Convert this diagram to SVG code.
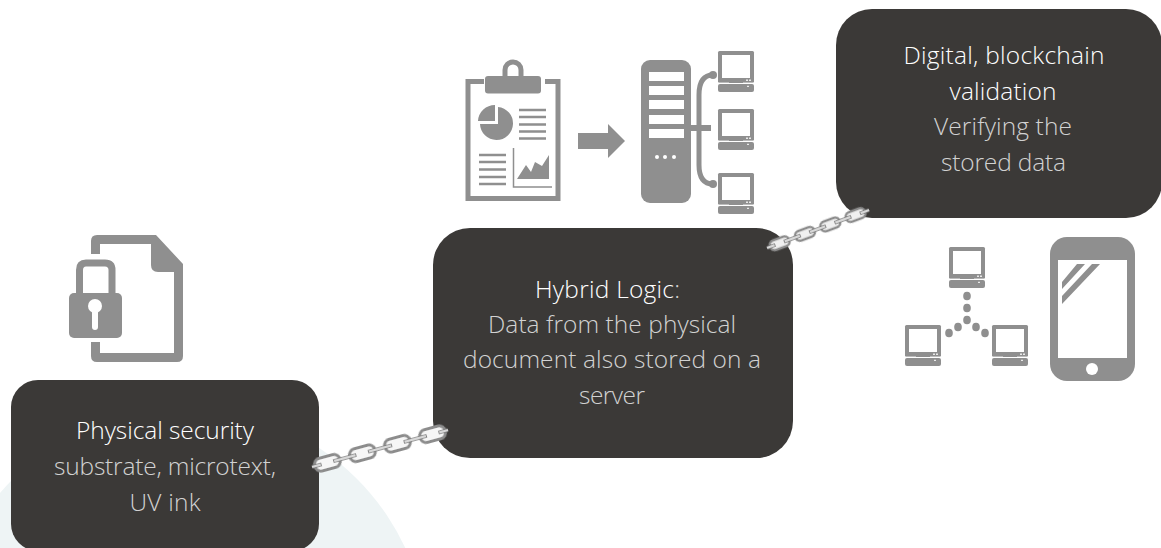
<svg xmlns="http://www.w3.org/2000/svg" xmlns:xlink="http://www.w3.org/1999/xlink" width="1161" height="548" viewBox="0 0 1161 548">
<style>
.box{fill:#3b3937}
.ic{fill:#8f8f8f}
.w{fill:#fff}
.ln{fill:none;stroke:#8f8f8f}
text{font-family:"Open Sans","Noto Sans","Liberation Sans",sans-serif;font-weight:300;font-size:24.5px;text-anchor:middle}
.t{fill:#fff}
.s{fill:#d2d2d2}
.link{fill:#f6f6f6;stroke:#8c8c8c;stroke-width:3}
.lk2{fill:#f0f0f0;stroke:#8c8c8c;stroke-width:2.500}
.bar{stroke:#7c7c7c;stroke-width:3.600;fill:none}
.pin{stroke:#f6f6f6;stroke-width:1.300;fill:none}
</style>
<defs>
<g id="pc">
<rect x="0" y="0" width="36" height="32" rx="1.500" class="ic"/>
<rect x="4" y="4" width="28" height="23" class="w"/>
<rect x="0" y="33" width="36" height="8" rx="2" class="ic"/>
<rect x="0" y="31.600" width="11" height="1" class="w"/>
<rect x="25" y="31.600" width="11" height="1" class="w"/>
<rect x="28" y="28.600" width="2" height="1.200" class="w"/>
<rect x="31" y="28.600" width="2" height="1.200" class="w"/>
<rect x="29" y="34.800" width="2" height="1" class="w"/>
</g>
<rect id="lk" x="-13" y="-6.500" width="26" height="13" rx="6" class="link"/>
<rect id="lks" x="-10" y="-5" width="20" height="10" rx="4.500" class="lk2"/>
<filter id="soft" x="-10%" y="-40%" width="120%" height="180%"><feGaussianBlur stdDeviation="0.6"/></filter>
</defs>
<circle id="backdrop" cx="185" cy="650.500" r="243" fill="#eef4f5"/>
<g id="node-physical">
<rect class="box" x="11" y="380" width="308" height="171" rx="27"/>
<text class="t" x="165" y="439" textLength="178">Physical security</text>
<text class="s" x="165" y="475" textLength="222">substrate, microtext,</text>
<text class="s" x="165" y="511" textLength="71">UV ink</text>
</g>
<g id="node-hybrid">
<rect class="box" x="433" y="228" width="360" height="230" rx="37"/>
<text class="t" x="607.500" y="298" textLength="145">Hybrid Logic<tspan class="s">:</tspan></text>
<text class="s" x="612" y="333" textLength="248">Data from the physical</text>
<text class="s" x="612" y="368" textLength="298">document also stored on a</text>
<text class="s" x="612" y="404" textLength="66">server</text>
</g>
<g id="node-digital">
<rect class="box" x="836" y="9" width="326" height="209" rx="36"/>
<text class="t" x="1004" y="64" textLength="201">Digital, blockchain</text>
<text class="t" x="1003" y="100" textLength="107">validation</text>
<text class="s" x="1003" y="135" textLength="138">Verifying the</text>
<text class="s" x="1003.500" y="171" textLength="125">stored data</text>
</g>
<g id="icon-locked-document">
<path class="ic" fill-rule="evenodd" d="M91 254V241Q91 235 97 235H156L183 264V356Q183 362 177 362H97Q91 362 91 356V342H100V353H174V272H158Q151 272 151 265V244H100V254Z"/>
<path class="ln" stroke-width="7" d="M79.500 293V270Q79.500 263 86 263H105Q112 263 112 270V293"/>
<rect class="ic" x="69" y="293" width="53" height="45" rx="5"/>
<circle class="w" cx="95" cy="306" r="7"/>
<rect class="w" x="92" y="306" width="6" height="24" rx="3"/>
</g>
<g id="icon-clipboard">
<path class="ln" stroke-width="5" d="M484 81.500H468V198.500H558V81.500H545"/>
<rect class="ic" x="485" y="76" width="56" height="17.500" rx="3"/>
<path class="ln" stroke-width="5" d="M505 76V70A8 8 0 0 1 521 70V76"/>
<path class="ic" d="M495 105V121H478A17 17 0 0 1 495 105ZM498 107A16.500 16.500 0 1 1 480 124H498Z"/>
<path class="ln" stroke-width="2.500" d="M519 110H546M519 117H546M519 124.500H546M519 131.500H546M519 138.500H546M479 155H506M479 162H506M479 169.500H506M479 177H506M479 184H506"/>
<path class="ln" stroke-width="1.500" d="M513.500 148V187H552"/>
<path class="ic" d="M517 179L526 165L531 172L535 162L542 166L549 155V179Z"/>
</g>
<path id="icon-arrow" class="ic" d="M578 133H608V124L625 141L608 158V149H578Z"/>
<g id="icon-server">
<rect class="ic" x="641" y="60" width="50" height="143" rx="9"/>
<rect class="w" x="649" y="72" width="35" height="9"/>
<rect class="w" x="649" y="86" width="35" height="9"/>
<rect class="w" x="649" y="100" width="35" height="9"/>
<rect class="w" x="649" y="115" width="35" height="9"/>
<rect class="w" x="649" y="129" width="35" height="9"/>
<circle class="w" cx="657" cy="157" r="2"/><circle class="w" cx="665" cy="157" r="2"/><circle class="w" cx="674" cy="157" r="2"/>
<path class="ln" stroke-width="5" d="M713 75Q699 75 699 95V165Q699 184 713 184"/>
<path class="ln" stroke-width="6" d="M691 128H711"/>
<circle class="ic" cx="713" cy="75" r="4"/><circle class="ic" cx="713" cy="184" r="4"/>
<use xlink:href="#pc" href="#pc" x="718" y="51"/>
<use xlink:href="#pc" href="#pc" x="718" y="109"/>
<use xlink:href="#pc" href="#pc" x="718" y="173"/>
</g>
<g id="icon-network">
<use xlink:href="#pc" href="#pc" x="949" y="247"/>
<use xlink:href="#pc" href="#pc" x="905" y="325"/>
<use xlink:href="#pc" href="#pc" x="992" y="325"/>
<ellipse class="ic" cx="967" cy="296" rx="3.800" ry="4.300"/>
<ellipse class="ic" cx="967" cy="308" rx="3.800" ry="4.300"/>
<ellipse class="ic" cx="967" cy="320" rx="3.800" ry="4.300"/>
<ellipse class="ic" cx="958" cy="327" rx="3.800" ry="4.300"/>
<ellipse class="ic" cx="949" cy="333" rx="3.800" ry="4.300"/>
<ellipse class="ic" cx="976" cy="327" rx="3.800" ry="4.300"/>
<ellipse class="ic" cx="985" cy="333" rx="3.800" ry="4.300"/>
</g>
<g id="icon-phone">
<rect class="ic" x="1050" y="237" width="85" height="144" rx="17"/>
<rect class="w" x="1058" y="260" width="69" height="98"/>
<circle class="w" cx="1092" cy="369" r="6"/>
<path class="ic" d="M1062 282L1077 264H1085L1062 289ZM1062 296L1092 264H1100L1062 304Z"/>
</g>
<g id="connectors">
<g id="chain-1" filter="url(#soft)" transform="translate(312 467) rotate(-15.200)">
<use xlink:href="#lk" href="#lk" x="16"/>
<use xlink:href="#lk" href="#lk" x="52.300"/>
<use xlink:href="#lk" href="#lk" x="88.600"/>
<use xlink:href="#lk" href="#lk" x="125"/>
<path class="bar" d="M0 0H10M22 0H46M58 0H83M95 0H119M131 0H141"/>
<path class="pin" d="M0 0H9M23 0H45M59 0H82M96 0H118M132 0H141"/>
</g>
<g id="chain-2" filter="url(#soft)" transform="translate(767 248) rotate(-20.400)">
<use xlink:href="#lks" href="#lks" x="13.500"/>
<use xlink:href="#lks" href="#lks" x="40.500"/>
<use xlink:href="#lks" href="#lks" x="67.500"/>
<use xlink:href="#lks" href="#lks" x="94.500"/>
<path class="bar" stroke-width="3" d="M0 0H9M18 0H36M45 0H63M72 0H90M99 0H109"/>
<path class="pin" d="M0 0H8M19 0H35M46 0H62M73 0H89M100 0H109"/>
</g>
</g>
</svg>
